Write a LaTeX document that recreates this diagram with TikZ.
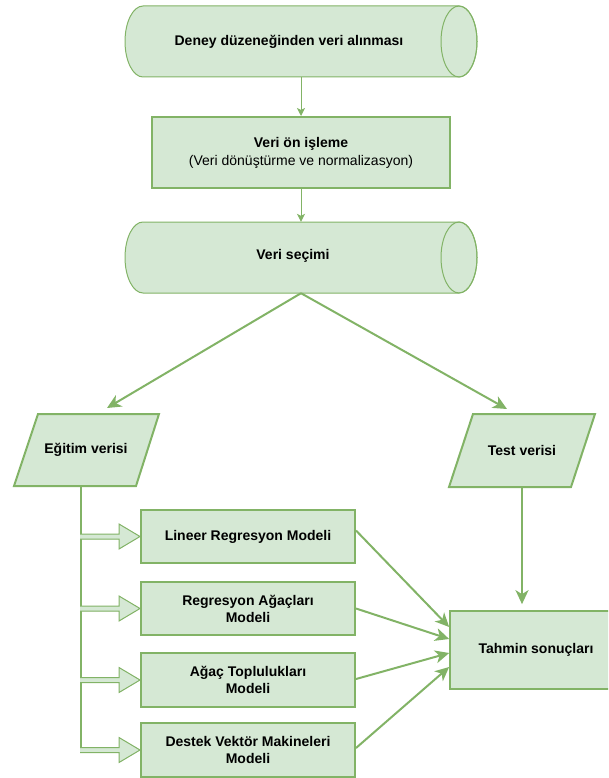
\documentclass[tikz,border=0pt]{standalone}
\usepackage{fontspec}
\setmainfont{Liberation Sans}
\usetikzlibrary{arrows.meta,calc}
\definecolor{gfill}{HTML}{D5E8D4}
\definecolor{gline}{HTML}{82B366}
\newcommand{\cylbody}[4]{% left, right, top, bottom
  \filldraw[fill=gfill, draw=gline, line width=1pt]
    ({#1+18},#3) -- ({#2-18},#3)
    arc[start angle=90, end angle=-90, x radius=18pt, y radius={(#4-#3)/2*1pt}]
    -- ({#1+18},#4)
    arc[start angle=270, end angle=90, x radius=18pt, y radius={(#4-#3)/2*1pt}]
    -- cycle;
  \draw[gline, line width=1pt] ({#2-18},{(#3+#4)/2}) ellipse[x radius=18pt, y radius={(#4-#3)/2*1pt}];
}
\newcommand{\blockarrow}[1]{%
  \begin{scope}[shift={(1.2,2)}]
    \fill[black!35] ($(#1.west)+(-60,-2.5)$) -- ($(#1.west)+(-21,-2.5)$) -- ($(#1.west)+(-21,-12.5)$) -- (#1.west) -- ($(#1.west)+(-21,12.5)$) -- ($(#1.west)+(-21,2.5)$) -- ($(#1.west)+(-60,2.5)$) -- cycle;
  \end{scope}
  \filldraw[fill=gfill, draw=gline, line width=1pt] ($(#1.west)+(-60,-2.5)$) -- ($(#1.west)+(-21,-2.5)$) -- ($(#1.west)+(-21,-12.5)$) -- (#1.west) -- ($(#1.west)+(-21,12.5)$) -- ($(#1.west)+(-21,2.5)$) -- ($(#1.west)+(-60,2.5)$);
}
\begin{document}
\begin{tikzpicture}[x=1pt,y=-1pt,
  font=\fontsize{14}{17}\selectfont,
  boxstyle/.style={draw=gline, fill=gfill, line width=2pt, rectangle, align=center, inner sep=0pt, font=\fontsize{14}{17}\selectfont\bfseries},
  label/.style={inner sep=0pt, align=center, font=\fontsize{14}{17}\selectfont\bfseries},
  thinarrow/.style={draw=gline, line width=1pt, -{Stealth[length=8pt,width=8pt,inset=2pt]}},
  thickarrow/.style={draw=gline, line width=2pt, -{Stealth[length=14pt,width=13pt,inset=4pt]}},
  plain/.style={draw=gline, line width=2pt}
]
\useasboundingbox (0,0) rectangle (608,778);
\clip (0,0) rectangle (608,778);

% cylinder 1
\cylbody{125}{477}{6}{77}
\node[minimum width=352pt, minimum height=71pt, inner sep=0pt] (c1) at (301,41.5) {};
\node[label] at (289,41.5) {Deney düzeneğinden veri alınması};

% box
\node[boxstyle, minimum width=298pt, minimum height=71pt] (b1) at (301,152.5)
  {Veri ön işleme\\[1pt]\mdseries (Veri dönüştürme ve normalizasyon)};

% cylinder 2
\cylbody{125}{477}{222}{293}
\node[minimum width=352pt, minimum height=71pt, inner sep=0pt] (c2) at (301,257.5) {};
\node[label] at (293,255.5) {Veri seçimi};

% parallelograms
\filldraw[fill=gfill, draw=gline, line width=2pt] (38,414) -- (159,414) -- (136,486) -- (14,486) -- cycle;
\node[label, minimum width=98pt, minimum height=72pt] (e) at (86,450) {Eğitim verisi};
\filldraw[fill=gfill, draw=gline, line width=2pt] (473,414) -- (595,414) -- (571,487) -- (449,487) -- cycle;
\node[label, minimum width=98pt, minimum height=73pt] (t) at (522,450.5) {Test verisi};

% models
\node[boxstyle, minimum width=214pt, minimum height=53pt] (m1) at (248,536.5) {Lineer Regresyon Modeli};
\node[boxstyle, minimum width=214pt, minimum height=53pt] (m2) at (248,608.5) {Regresyon Ağaçları\\Modeli};
\node[boxstyle, minimum width=214pt, minimum height=54pt] (m3) at (248,680) {Ağaç Toplulukları\\Modeli};
\node[boxstyle, minimum width=214pt, minimum height=54pt] (m4) at (248,750) {Destek Vektör Makineleri\\Modeli};

% result
\node[boxstyle, line width=1.7pt, minimum width=172pt, minimum height=78pt] (r) at (536,650) {Tahmin sonuçları};

% connectors
\draw[thinarrow] (c1.south) -- (b1.north);
\draw[thinarrow] (b1.south) -- (c2.north);
\coordinate (eIn) at (107,408);
\coordinate (tIn) at (507,409);
\draw[thickarrow] (c2.south) -- (eIn);
\draw[thickarrow] (c2.south) -- (tIn);
\draw[thickarrow, shorten >=6pt] (t.south) -- (t.south |- r.north);

% trunk and block arrows
\coordinate (trunkEnd) at (81,750);
\draw[plain, line width=1.5pt] (81,486) -- (trunkEnd);
\blockarrow{m1}
\blockarrow{m2}
\blockarrow{m3}
\blockarrow{m4}

% models to result
\draw[thickarrow] ($(m1.east)+(0,-6)$) -- ($(r.west)+(0,-23)$);
\draw[thickarrow] ($(m2.east)+(0,0)$) -- ($(r.west)+(0,-11)$);
\draw[thickarrow] ($(m3.east)+(0,-1)$) -- ($(r.west)+(0,3)$);
\draw[thickarrow] ($(m4.east)+(0,-2)$) -- ($(r.west)+(0,17)$);
\end{tikzpicture}
\end{document}
